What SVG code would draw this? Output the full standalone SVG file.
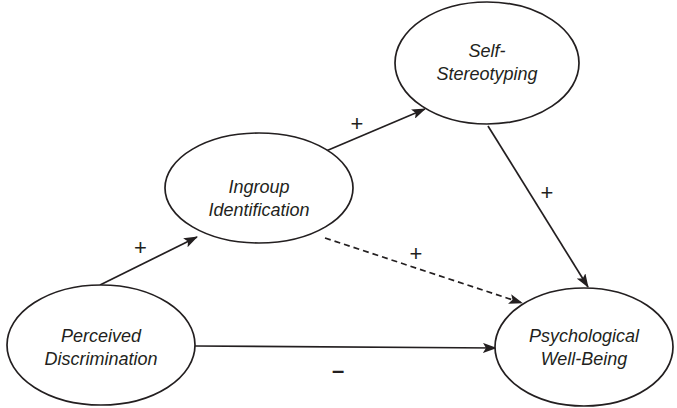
<svg xmlns="http://www.w3.org/2000/svg" width="677" height="408" viewBox="0 0 677 408">
<style>
.node ellipse{fill:#fff;stroke:#231f20;stroke-width:1.7}
.node text{font-family:"Liberation Sans",Arial,sans-serif;font-style:italic;font-size:18px;fill:#231f20;text-anchor:middle}
.edge{stroke:#231f20;stroke-width:1.7;fill:none}
.dash{stroke-dasharray:6,4}
.lbl{font-family:"Liberation Sans",Arial,sans-serif;font-size:22px;fill:#231f20;text-anchor:middle}
</style>
<defs>
<marker id="ah" viewBox="0 0 14 10" refX="13" refY="5" markerWidth="14" markerHeight="10" markerUnits="userSpaceOnUse" orient="auto">
<path d="M0,0 L14,5 L0,10 L3,5 Z" fill="#231f20"/>
</marker>
</defs>
<rect width="677" height="408" fill="#fff"/>
<g id="connectors">
<line class="edge" x1="100" y1="285" x2="197" y2="237" marker-end="url(#ah)"/>
<line class="edge" x1="326" y1="151" x2="425" y2="109" marker-end="url(#ah)"/>
<line class="edge" x1="488" y1="126" x2="588" y2="287" marker-end="url(#ah)"/>
<line class="edge dash" x1="325" y1="238" x2="522" y2="303" marker-end="url(#ah)"/>
<line class="edge" x1="195" y1="346" x2="496" y2="348" marker-end="url(#ah)"/>
<text class="lbl" x="140.5" y="255">+</text>
<text class="lbl" x="357" y="131">+</text>
<text class="lbl" x="547" y="200">+</text>
<text class="lbl" x="416" y="261">+</text>
<text class="lbl" x="338" y="378" font-weight="bold">–</text>
</g>
<g id="perceived-discrimination" class="node">
<ellipse cx="101" cy="345" rx="94" ry="60"/>
<text x="101" y="342">Perceived</text>
<text x="101" y="365">Discrimination</text>
</g>
<g id="ingroup-identification" class="node">
<ellipse cx="259" cy="188" rx="94" ry="55"/>
<text x="259" y="193">Ingroup</text>
<text x="259" y="216">Identification</text>
</g>
<g id="self-stereotyping" class="node">
<ellipse cx="487" cy="63" rx="92" ry="61"/>
<text x="487" y="57">Self-</text>
<text x="487" y="80">Stereotyping</text>
</g>
<g id="psychological-well-being" class="node">
<ellipse cx="584" cy="347" rx="89" ry="59"/>
<text x="584" y="342">Psychological</text>
<text x="584" y="365">Well-Being</text>
</g>
</svg>
